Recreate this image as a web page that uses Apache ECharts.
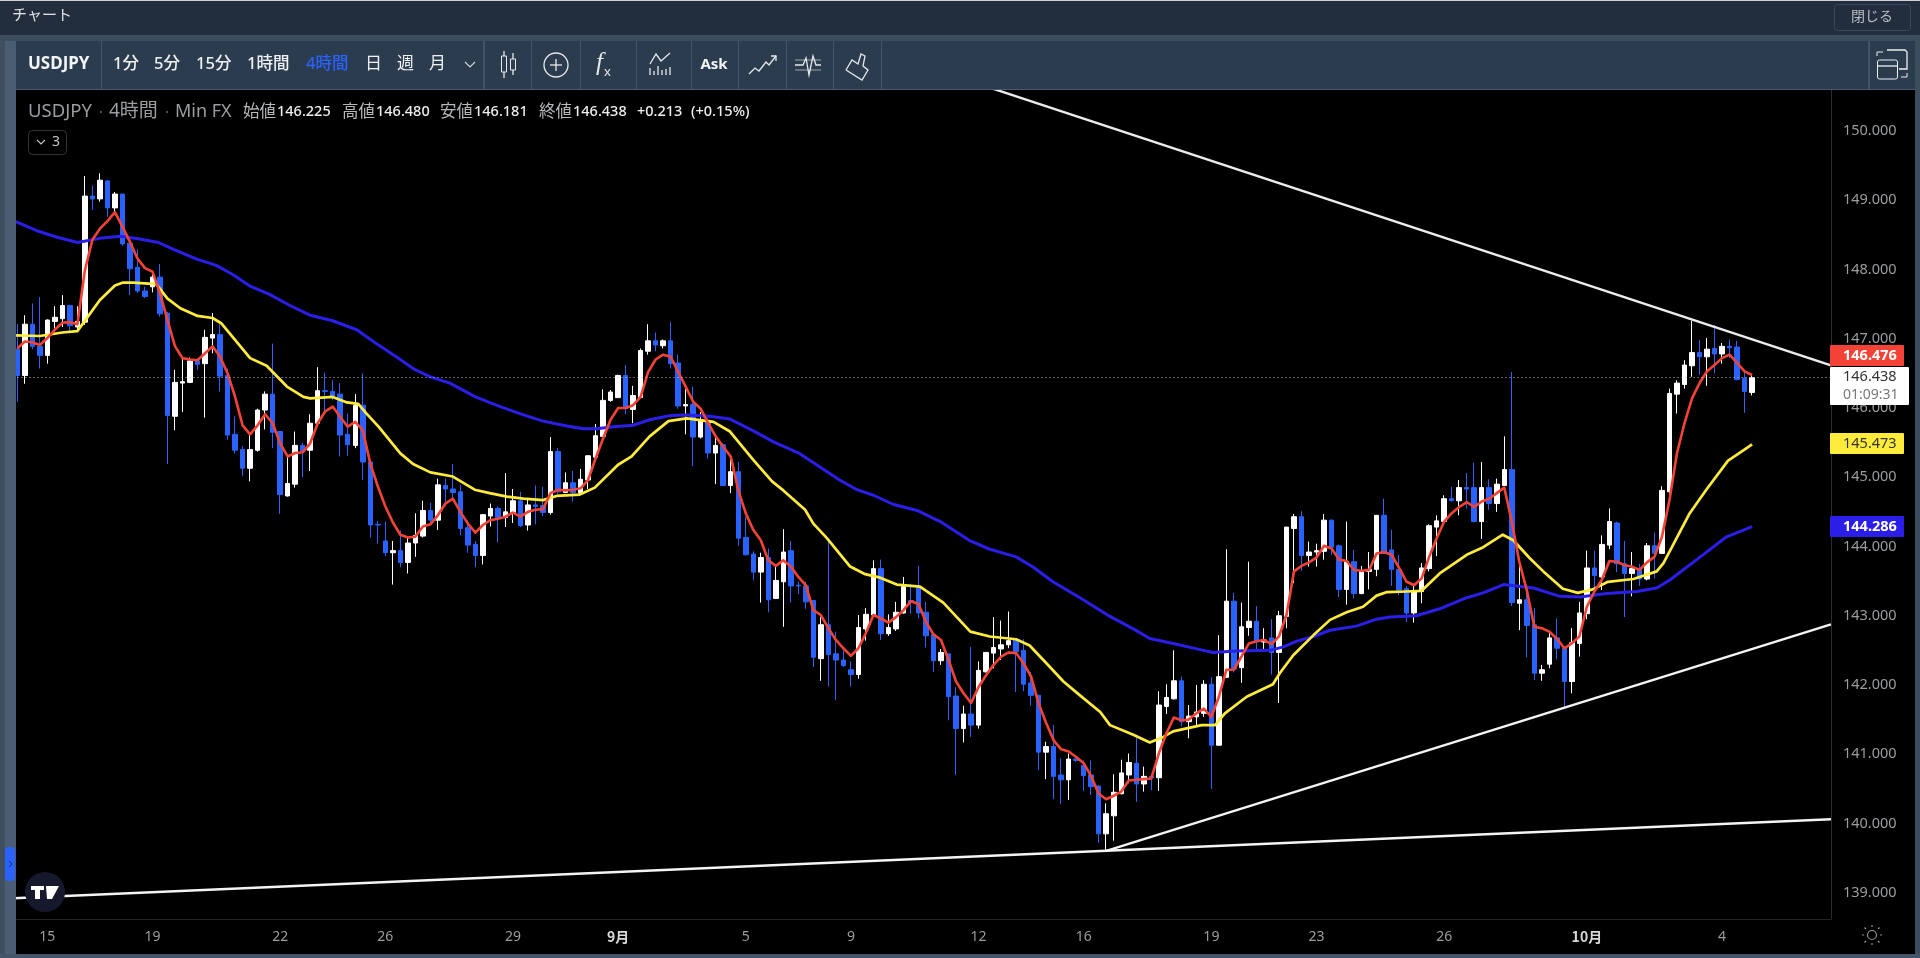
<!DOCTYPE html>
<html lang="ja">
<head>
<meta charset="utf-8">
<title>USDJPY</title>
<style>html,body{margin:0;padding:0;background:#000;overflow:hidden}#c{width:1920px;height:958px}</style>
<script src="https://cdn.jsdelivr.net/npm/echarts@6/dist/echarts.min.js"></script>
</head>
<body>
<div id="c"></div>
<script>
// [open, close, low, high]
const candles = [
[146.85,146.47,146.09,147.21],[146.47,147.21,146.35,147.34],[147.21,146.89,146.85,147.51],[146.89,146.76,146.57,147.60],[146.76,147.27,146.64,147.28],
[147.25,147.31,147.15,147.47],[147.29,147.48,147.17,147.63],[147.48,147.19,147.08,147.49],[147.17,147.25,147.13,147.47],[147.24,149.06,147.20,149.35],
[149.06,149.02,148.86,149.21],[149.02,149.29,148.98,149.39],[149.28,148.89,148.76,149.29],[148.89,149.09,148.81,149.12],[149.09,148.37,148.34,149.09],
[148.38,148.01,147.63,148.38],[148.03,147.69,147.66,148.29],[147.69,147.61,147.59,147.75],[147.75,147.89,147.67,147.93],[147.89,147.36,147.32,148.08],
[147.37,145.89,145.19,147.39],[145.88,146.37,145.68,146.55],[146.36,146.38,145.94,146.72],[146.37,146.68,146.36,146.73],[146.68,146.63,146.55,146.72],
[146.64,147.02,145.86,147.13],[147.01,147.06,146.79,147.37],[147.06,146.46,146.24,147.21],[146.47,145.61,145.54,146.57],[145.62,145.39,145.34,145.88],
[145.40,145.13,145.02,145.45],[145.13,145.40,144.94,145.62],[145.39,145.97,145.37,145.99],[145.97,146.20,145.69,146.24],[146.20,145.65,145.42,146.93],
[145.66,144.75,144.47,145.66],[144.73,144.91,144.72,145.31],[144.90,145.46,144.85,145.66],[145.46,145.38,145.00,145.50],[145.39,145.78,145.09,145.91],
[145.78,146.25,145.75,146.59],[146.25,146.24,145.95,146.51],[146.24,146.17,146.11,146.40],[146.20,145.61,145.30,146.36],[145.62,145.47,145.31,145.92],
[145.46,146.04,145.42,146.20],[146.04,145.22,144.96,146.50],[145.22,144.31,144.13,145.23],[144.32,144.31,144.04,144.37],[144.08,143.91,143.86,144.36],
[143.91,143.94,143.45,144.08],[143.94,143.77,143.70,144.23],[143.77,144.05,143.61,144.13],[144.05,144.16,143.85,144.48],[144.15,144.52,144.13,144.66],
[144.52,144.38,144.32,144.63],[144.38,144.89,144.24,144.98],[144.88,144.83,144.58,144.98],[144.83,144.78,144.67,145.19],[144.79,144.26,144.16,144.89],
[144.27,144.02,143.91,144.38],[144.03,143.87,143.70,144.08],[143.87,144.46,143.74,144.46],[144.44,144.55,144.29,144.62],[144.55,144.42,144.06,144.58],
[144.42,144.50,144.28,145.06],[144.49,144.66,144.34,144.83],[144.66,144.30,144.28,144.79],[144.31,144.60,144.23,144.70],[144.60,144.58,144.32,144.88],
[144.59,144.49,144.44,144.86],[144.49,145.37,144.46,145.58],[145.37,144.79,144.76,145.42],[144.78,144.92,144.77,145.07],[144.92,144.78,144.65,145.09],
[144.77,144.97,144.77,145.12],[144.96,145.31,144.83,145.32],[145.29,145.60,145.26,145.77],[145.59,146.11,145.59,146.27],[146.11,146.23,146.09,146.26],
[146.15,146.47,146.15,146.48],[146.47,145.99,145.91,146.62],[145.98,146.18,145.78,146.32],[146.15,146.83,146.15,146.86],[146.82,146.97,146.77,147.21],
[146.97,146.91,146.82,147.09],[146.90,146.97,146.86,146.99],[146.97,146.64,146.57,147.24],[146.65,146.03,145.99,146.77],[146.03,146.05,145.62,146.27],
[146.05,145.58,145.16,146.31],[145.58,145.82,145.56,145.94],[145.82,145.35,145.27,145.85],[145.35,145.46,144.90,145.58],[145.47,144.88,144.88,145.49],
[144.88,145.08,144.77,145.28],[145.08,144.12,144.01,145.22],[144.13,143.88,143.87,144.43],[143.89,143.63,143.51,143.93],[143.63,143.84,143.19,143.91],
[143.84,143.23,143.05,143.97],[143.25,143.51,143.24,143.73],[143.49,143.92,142.84,144.25],[143.94,143.43,143.19,144.08],[143.44,143.43,143.31,143.49],
[143.43,143.20,143.10,143.49],[143.22,142.40,142.26,143.23],[142.38,142.87,142.06,142.98],[142.87,142.44,141.98,144.10],[142.45,142.36,141.78,142.77],
[142.36,142.28,142.26,142.50],[142.22,142.15,141.98,142.34],[142.15,142.83,142.09,143.01],[142.81,143.02,142.64,143.11],[143.01,143.68,142.99,143.80],
[143.68,142.74,142.65,143.81],[142.74,142.83,142.71,143.02],[142.81,143.05,142.78,143.20],[143.04,143.42,143.03,143.56],[143.22,143.19,143.03,143.46],
[143.42,143.04,142.96,143.72],[143.05,142.71,142.54,143.20],[142.73,142.35,142.19,142.74],[142.35,142.47,142.29,142.52],[142.45,141.83,141.49,142.45],
[141.84,141.37,140.70,141.97],[141.37,141.58,141.17,141.70],[141.58,141.42,141.25,142.55],[141.42,142.21,141.37,142.34],[142.19,142.47,142.18,142.47],
[142.46,142.54,142.24,142.98],[142.52,142.58,142.36,142.93],[142.58,142.64,142.53,143.06],[142.65,142.48,141.90,142.67],[142.50,142.01,141.91,142.66],
[142.03,141.85,141.70,142.19],[141.85,141.03,140.77,141.86],[141.03,141.11,140.64,141.18],[141.11,140.68,140.35,141.42],[140.70,140.63,140.28,140.94],
[140.63,140.93,140.34,141.01],[140.93,140.91,140.89,140.96],[140.84,140.69,140.47,140.91],[140.70,140.53,140.41,140.91],[140.54,139.85,139.72,140.55],
[139.85,140.14,139.62,140.29],[140.11,140.45,139.75,140.71],[140.43,140.73,140.42,140.92],[140.70,140.88,140.58,141.01],[140.87,140.57,140.31,141.24],
[140.57,140.68,140.46,140.82],[140.68,140.66,140.48,140.72],[140.66,141.71,140.47,141.91],[141.69,141.82,141.58,142.01],[141.80,142.06,141.79,142.50],
[142.06,141.47,141.40,142.12],[141.47,141.55,141.23,141.71],[141.54,141.61,141.42,142.00],[141.59,142.01,141.54,142.07],[142.01,141.13,140.50,142.11],
[141.13,142.12,141.12,142.72],[142.11,143.21,142.10,143.96],[143.21,142.23,142.18,143.33],[142.25,142.84,142.03,143.19],[142.83,142.92,142.71,143.78],
[142.92,142.63,142.51,143.14],[142.62,142.65,142.50,142.82],[142.68,142.47,142.15,142.95],[142.47,143.00,141.74,143.07],[142.99,144.28,142.82,144.28],
[144.26,144.43,143.47,144.47],[144.43,143.87,143.65,144.51],[143.87,143.92,143.71,144.07],[143.92,143.94,143.71,144.04],[143.93,144.38,143.81,144.47],
[144.38,143.99,143.88,144.39],[144.01,143.38,143.27,144.03],[143.38,143.78,143.16,144.36],[143.78,143.32,143.25,143.95],[143.32,143.65,143.31,143.72],
[143.64,143.67,143.38,143.92],[143.67,144.45,143.57,144.45],[144.45,143.90,143.90,144.69],[143.95,143.67,143.43,144.24],[143.67,143.37,143.30,143.88],
[143.39,143.04,142.91,143.43],[143.04,143.36,142.90,143.43],[143.35,143.69,143.18,143.76],[143.68,144.30,143.64,144.32],[144.28,144.37,143.86,144.45],
[144.36,144.69,144.33,144.74],[144.69,144.66,144.65,144.86],[144.66,144.85,144.45,144.96],[144.85,144.83,144.55,145.06],[144.85,144.36,144.35,145.21],
[144.36,144.85,144.11,145.22],[144.85,144.62,144.53,144.97],[144.62,144.90,144.50,144.98],[144.88,145.11,144.89,145.59],[145.11,143.19,143.14,146.52],
[143.18,143.23,142.79,143.78],[143.23,142.86,142.40,143.37],[142.87,142.17,142.07,143.11],[142.17,142.22,142.06,142.29],[142.30,142.68,142.24,142.75],
[142.68,142.53,142.37,142.96],[142.53,142.05,141.65,142.54],[142.05,142.61,141.88,142.82],[142.60,143.04,142.41,143.20],[143.03,143.69,142.95,143.94],
[143.69,143.58,143.37,143.94],[143.56,144.03,143.37,144.16],[144.02,144.36,143.96,144.55],[144.34,143.75,143.63,144.36],[143.75,143.61,142.98,144.08],
[143.61,143.68,143.28,143.92],[143.68,143.53,143.43,143.75],[143.53,144.01,143.51,144.05],[144.01,143.90,143.54,144.20],[143.90,144.81,143.90,144.87],
[144.79,146.21,144.62,146.28],[146.20,146.36,145.92,146.40],[146.34,146.62,146.28,146.69],[146.61,146.80,146.45,147.26],[146.80,146.74,146.48,146.98],
[146.74,146.85,146.32,147.01],[146.86,146.78,146.50,147.20],[146.78,146.89,146.64,146.94],[146.89,146.87,146.72,146.99],[146.88,146.41,146.40,146.97],
[146.43,146.24,145.93,146.52],[146.225,146.438,146.181,146.480]
];
const redLine = [
146.86,146.96,146.95,146.91,147.01,147.13,147.23,147.24,147.21,147.99,148.43,148.59,148.70,148.83,148.62,148.40,148.16,148.02,147.97,147.66,
147.27,146.89,146.72,146.70,146.69,146.79,146.89,146.74,146.50,146.16,145.75,145.62,145.75,145.91,145.78,145.49,145.30,145.35,145.36,145.49,
145.78,145.95,146.02,145.87,145.73,145.80,145.68,145.20,144.87,144.58,144.35,144.17,144.13,144.14,144.29,144.32,144.45,144.62,144.69,144.50,
144.33,144.20,144.31,144.38,144.40,144.43,144.49,144.43,144.50,144.53,144.54,144.77,144.82,144.81,144.82,144.84,144.96,145.27,145.56,145.83,
146.00,146.00,146.04,146.16,146.52,146.70,146.77,146.74,146.52,146.31,146.09,145.99,145.78,145.59,145.44,145.30,144.81,144.48,144.24,144.09,
143.80,143.72,143.80,143.71,143.56,143.44,143.08,143.01,142.82,142.65,142.53,142.42,142.53,142.75,143.01,142.96,142.90,142.98,143.08,143.21,
143.17,142.91,142.73,142.65,142.36,142.05,141.88,141.74,141.97,142.14,142.29,142.41,142.47,142.46,142.31,142.12,141.73,141.45,141.20,141.07,
141.04,140.96,140.87,140.68,140.43,140.35,140.40,140.46,140.62,140.63,140.64,140.65,141.01,141.30,141.53,141.49,141.50,141.59,141.66,141.54,
141.83,142.22,142.22,142.41,142.60,142.63,142.65,142.59,142.70,143.01,143.64,143.72,143.77,143.84,144.01,143.97,143.81,143.79,143.66,143.65,
143.66,143.90,143.92,143.88,143.69,143.49,143.44,143.54,143.85,144.12,144.36,144.48,144.57,144.64,144.57,144.65,144.69,144.77,144.85,144.36,
143.78,143.37,142.84,142.82,142.77,142.67,142.53,142.60,142.70,143.13,143.35,143.52,143.79,143.78,143.73,143.71,143.66,143.77,143.85,144.14,
144.67,145.35,145.78,146.14,146.36,146.53,146.62,146.72,146.77,146.65,146.53,146.476
];
const yellowBars = [-0.2,3,6,8,11,13,14,15.4,18.5,20,21.7,24,26,27.2,28.8,31,33.2,35.9,38.1,39,42,43.9,45.4,46.5,48.1,51,52.7,55,58,60.9,62.9,65.2,67.4,70,71.8,74.9,76.9,80,81.8,84.2,86.7,89.1,92.7,94.9,98,100.5,102,104.9,106,107.8,110.9,112.9,114.9,117.1,120.2,123.3,126.9,129.5,133,134.8,137.5,139.3,141.5,144.2,145.5,148.6,150.8,152.6,153.9,157.7,159.5,160.8,163.7,167.2,168.1,169.9,172.6,174.8,177,179.2,181,182.3,185,187,189.4,193,195.2,197.8,199.2,201.4,203.2,205.8,207.8,209.8,211.8,215.2,218.3,219.2,222.7,224.9,227.8,228.9,231];
const yellowVals = [147.05,147.04,147.09,147.11,147.56,147.77,147.81,147.81,147.79,147.58,147.44,147.33,147.30,147.22,147.01,146.72,146.61,146.31,146.16,146.14,146.16,146.08,146.06,145.92,145.73,145.345,145.19,145.07,145.01,144.82,144.77,144.72,144.69,144.67,144.73,144.75,144.85,145.18,145.30,145.59,145.81,145.85,145.80,145.66,145.25,144.94,144.81,144.53,144.33,144.12,143.71,143.60,143.55,143.45,143.42,143.19,142.77,142.70,142.66,142.57,142.26,142.05,141.85,141.61,141.42,141.28,141.17,141.25,141.33,141.42,141.42,141.59,141.83,142.01,142.17,142.43,142.72,142.94,143.05,143.13,143.29,143.34,143.35,143.36,143.61,143.88,143.99,144.17,144.09,143.83,143.64,143.39,143.33,143.38,143.49,143.53,143.64,143.76,144.48,144.82,145.24,145.32,145.473];
const blueBars = [-0.2,2.6,5.2,8,11,13.7,16.3,18.8,20.8,23.9,26.5,28.8,31,33.6,36.3,39,42,45.2,47.8,51,52.7,55,57.6,61,64.3,67.4,70,73.2,75.4,77.1,79.4,82,84.2,86.9,89.1,92.2,94.9,98,100.7,104.2,109.5,111.8,114,116.6,119.8,122.9,126.9,129.5,133,135.3,137.9,141.5,145.5,148.6,150.8,153.9,157.5,159.2,162.3,166.8,168.6,170.3,172.6,174.8,178.3,181,182.8,186.3,189.4,193,195.2,197.9,201.9,205.4,208.1,211.6,215.6,218.3,220.1,224.1,227.6,231];
const blueVals = [148.69,148.56,148.47,148.39,148.45,148.48,148.44,148.39,148.29,148.15,148.06,147.92,147.76,147.64,147.48,147.34,147.26,147.13,146.93,146.70,146.57,146.45,146.36,146.16,146.02,145.90,145.81,145.74,145.70,145.70,145.73,145.75,145.83,145.89,145.90,145.88,145.84,145.67,145.51,145.34,144.96,144.82,144.74,144.61,144.52,144.36,144.08,143.96,143.85,143.70,143.49,143.26,142.99,142.81,142.67,142.60,142.51,142.47,142.49,142.50,142.55,142.63,142.70,142.79,142.85,142.95,142.98,143.00,143.10,143.26,143.33,143.45,143.40,143.28,143.27,143.32,143.35,143.40,143.52,143.85,144.14,144.286];
const tickBars = [4,18,35,49,66,80,97,111,128,142,159,173,190,209,227];
const tickLabels = ['15','19','22','26','29','9月','5','9','12','16','19','23','26','10月','4'];
const priceTicks = [139,140,141,142,143,144,145,146,147,148,149,150];
const upperTrendBars = [128,241.5];
const upperTrendVals = [150.68,146.616];
const floorTrendBars = [-0.5,241.5];
const floorTrendVals = [138.92,140.06];
const riseTrendBars = [144.9,241.5];
const riseTrendVals = [139.6,142.874];
const lastPrice = 146.438;
const totalBands = 242;

const categories = Array.from({length: totalBands}, () => '');
tickBars.forEach((b, i) => { categories[b] = tickLabels[i]; });
const pairs = (xs, ys) => xs.map((x, i) => [x, ys[i]]);

const FONT = '"Noto Sans","Noto Sans CJK JP",sans-serif';
const g = [];
const R = (x, y, w, h, fill, extra) => g.push(Object.assign({type:'rect', z:100, silent:true, shape:{x, y, width:w, height:h, r:(extra&&extra.r)||0}, style:{fill, stroke:(extra&&extra.stroke)||null, lineWidth:1}}));
const T = (x, y, text, o) => { o = o||{}; g.push({type:'text', z:101, silent:true, x, y, style:{text, fill:o.c||'#d9dde2', font:(o.st||'normal')+' '+(o.w||'normal')+' '+(o.s||14)+'px '+(o.f||FONT), textAlign:o.a||'left', textVerticalAlign:'middle'}}); };
const P = (pts, c, lw) => g.push({type:'polyline', z:101, silent:true, shape:{points:pts}, style:{stroke:c||'#e6e9ec', fill:null, lineWidth:lw||1.3}});
const C = (cx, cy, r, fill, stroke, lw) => g.push({type:'circle', z:101, silent:true, shape:{cx, cy, r}, style:{fill:fill||null, stroke:stroke||null, lineWidth:lw||1.3}});
const PG = (pts, fill) => g.push({type:'polygon', z:102, silent:true, shape:{points:pts}, style:{fill}});

// frame
R(0,0,1920,35,'#222e3d'); R(0,0,1920,1,'#cfd3d8');
R(0,35,1920,6,'#3d4d5e');
R(0,41,16,917,'#4a5d72'); R(0,41,5,917,'#3f4f5f');
R(1915,41,5,917,'#3d4d5e');
R(0,954,1920,4,'#44556a');
R(16,41,1899,48,'#2c3c4f'); R(16,89,1899,1,'#4a5c70');
[101,531,580,636,691,738,786,833,881].forEach(x => R(x,41,1,48,'#43546a'));
R(483,41,2,48,'#43546a'); R(1868,41,2,48,'#43546a');
T(12,16,'チャート',{s:15,c:'#dfe3e7'});
R(1834.5,4.5,76,26,'#222e3d',{stroke:'#3a4a5c',r:3});
T(1872,17,'閉じる',{s:14,c:'#b9bec4',a:'center'});
// toolbar text
T(28,64,'USDJPY',{s:17,w:'bold',c:'#f2f4f6'});
[['1分',113],['5分',154],['15分',196],['1時間',247]].forEach(a=>T(a[1],64,a[0],{s:16.5,w:'500',c:'#eef0f3'}));
T(306,64,'4時間',{s:16.5,w:'500',c:'#2962ff'});
[['日',365],['週',397],['月',429]].forEach(a=>T(a[1],64,a[0],{s:17,c:'#eef0f3'}));
P([[465,62],[470,67],[475,62]],'#cfd4d9',1.2);
// toolbar icons
R(501.5,56,5,16,null,{stroke:'#e6e9ec'}); P([[504,51],[504,56]]); P([[504,72],[504,78]]);
R(510.5,59,5,11,null,{stroke:'#e6e9ec'}); P([[513,53],[513,59]]); P([[513,70],[513,75]]);
C(556,65,12,null,'#e6e9ec',1.3); P([[550,65],[562,65]]); P([[556,59],[556,71]]);
T(596,63,'f',{s:25,st:'italic',f:'"Liberation Serif",serif',c:'#e6e9ec'}); T(604,72,'x',{s:13,c:'#e6e9ec'});
P([[650,64],[656,54],[661,61],[670,53]]);
[650,654,658,662,666,670].forEach((x,i)=>P([[x,75],[x,[68,71,66,70,69,67][i]]]));
T(714,65,'Ask',{s:15,w:'bold',c:'#f2f4f6',a:'center'});
P([[749,74],[755,68],[759,71],[766,62],[769,65],[776,56]]); P([[771,56],[776,56],[776,61]]);
P([[795,60],[821,60]],'#9aa3ad',1); P([[795,70],[821,70]],'#9aa3ad',1); P([[795,65],[803,65],[806,58],[809,75],[813,56],[816,65],[821,65]]);
P([[846,70],[852,60],[858,64],[861,54],[865,56],[863,66],[868,70],[862,80],[846,70]]);
// window icon
R(1877.5,60,20,19,null,{stroke:'#eef0f3',r:2}); P([[1887,50],[1905,50],[1907,52],[1907,69],[1899,69]],'#eef0f3',1.3); P([[1877,66],[1897,66]],'#eef0f3',1.3);
P([[1877,56],[1877,52],[1883,52]],'#eef0f3',1); P([[1907,73],[1907,77],[1901,77]],'#eef0f3',1);
// legend
T(28,112,'USDJPY',{s:18.5,c:'#9a9da1'}); T(109,112,'4時間',{s:19,c:'#9a9da1'}); T(175,112,'Min FX',{s:18,c:'#9a9da1'});
C(101,112,1,'#666',null); C(167,112,1,'#666',null);
[['始値',243,'146.225',277],['高値',342,'146.480',376],['安値',440,'146.181',474],['終値',539,'146.438',573]].forEach(a=>{T(a[1],112,a[0],{s:16.5,c:'#b5b8bb'});T(a[3],112,a[2],{s:14.5,w:'500',c:'#eceef0'});});
T(637,112,'+0.213',{s:14.5,w:'500',c:'#eceef0'}); T(691,112,'(+0.15%)',{s:14.5,w:'500',c:'#eceef0'});
R(28.5,130.5,38,24,'#000',{stroke:'#333',r:4}); P([[37,140],[41,144],[45,140]],'#c8c8c8',1.1); T(52,142,'3',{s:14,c:'#c8c8c8'});
// logo and tab
C(45,892,20,'#15192b',null);
PG([[31,886],[44,886],[44,890],[40,890],[40,899],[35,899],[35,890],[31,890]],'#ffffff'); PG([[46,886],[59,886],[52,899],[47,899]],'#ffffff');
R(5,847,10,34,'#2962ff',{r:4}); P([[9,861],[12,864],[9,867]],'#0d2a66',1);
// settings sun
C(1872,935,4.5,null,'#8f9398',1.2);
[[0,-8,0,-10],[0,8,0,10],[-8,0,-10,0],[8,0,10,0],[-6,-6,-7.5,-7.5],[6,-6,7.5,-7.5],[-6,6,-7.5,7.5],[6,6,7.5,7.5]].forEach(a=>P([[1872+a[0],935+a[1]],[1872+a[2],935+a[3]]],'#8f9398',1.2));
// price tags
R(1830,345,74,21,'#f44336',{r:1}); T(1843,355.5,'146.476',{s:14.5,w:'bold',c:'#ffffff'});
R(1830,367,79,38,'#ffffff',{r:1}); T(1843,377,'146.438',{s:14.5,c:'#333'}); T(1843,395,'01:09:31',{s:14,c:'#777'});
R(1830,433,74,21,'#ffeb3b',{r:1}); T(1843,443.5,'145.473',{s:14.5,c:'#333'});
R(1830,516,74,21,'#2a1ee8',{r:1}); T(1843,526.5,'144.286',{s:14.5,w:'bold',c:'#ffffff'});

const lineSeries = (name, data, color, width, xi) => ({name, type:'line', data, xAxisIndex:xi, yAxisIndex:0, showSymbol:false, symbol:'none', silent:true, animation:false, smooth:false, lineStyle:{color, width, join:'round'}, z:3});

const chart = echarts.init(document.getElementById('c'), null, {width:1920, height:958});
chart.setOption({
  backgroundColor:'#000000',
  animation:false,
  textStyle:{fontFamily:FONT},
  grid:{left:13.55, top:89, width:1817.4, height:830, containLabel:false},
  xAxis:[
    {type:'category', data:categories, boundaryGap:true,
     axisLine:{show:true, lineStyle:{color:'#232528'}}, axisTick:{show:false}, splitLine:{show:false},
     axisLabel:{interval:(i, name)=>name!=='', margin:11, color:'#9a9da1', fontSize:14, fontFamily:FONT,
       formatter:v=>v.indexOf('月')>=0?'{b|'+v+'}':v, rich:{b:{fontWeight:'bold', color:'#d6d8da', fontSize:14, fontFamily:'"Noto Sans CJK JP",sans-serif'}}}},
    {type:'value', min:-0.5, max:241.5, show:false, splitLine:{show:false}}
  ],
  yAxis:[{type:'value', position:'right', min:138.62, max:150.607, scale:true,
     axisLine:{show:true, onZero:false, lineStyle:{color:'#2a2c30'}}, axisTick:{show:false}, splitLine:{show:false},
     axisLabel:{customValues:priceTicks, margin:12, color:'#9a9da1', fontSize:14.5, fontFamily:FONT, formatter:v=>v.toFixed(3)}}],
  series:[
    {name:'USDJPY', type:'candlestick', data:candles, xAxisIndex:0, yAxisIndex:0, barWidth:5, silent:true, z:2,
     itemStyle:{color:'#ffffff', color0:'#2962ff', borderColor:'#ffffff', borderColor0:'#2962ff', borderWidth:1},
     markLine:{silent:true, symbol:'none', animation:false, label:{show:false}, lineStyle:{color:'#c4c4c4', type:[1,3], width:1}, data:[{yAxis:lastPrice}]}},
    lineSeries('MA long', pairs(blueBars, blueVals), '#2a1ee8', 3, 1),
    lineSeries('MA mid', pairs(yellowBars, yellowVals), '#ffeb3b', 2.7, 1),
    lineSeries('MA short', redLine, '#f44336', 2.6, 0),
    lineSeries('Upper trend', pairs(upperTrendBars, upperTrendVals), '#ececec', 2.4, 1),
    lineSeries('Floor trend', pairs(floorTrendBars, floorTrendVals), '#f4f4f4', 2.4, 1),
    lineSeries('Rising trend', pairs(riseTrendBars, riseTrendVals), '#f4f4f4', 2.4, 1)
  ],
  graphic:{elements:g}
});
</script>
</body>
</html>
